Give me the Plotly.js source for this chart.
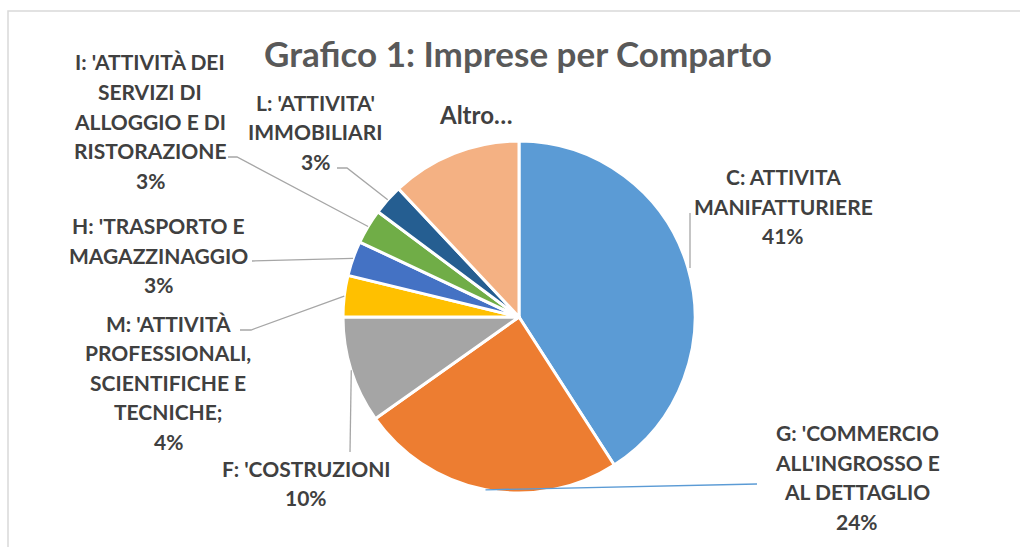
<!DOCTYPE html>
<html>
<head>
<meta charset="utf-8">
<script src="https://cdn.plot.ly/plotly-3.0.1.min.js"></script>
<style>
  html, body { margin: 0; padding: 0; background: #fff; }
  #plot-area { width: 1020px; height: 547px; }
</style>
</head>
<body>
<div id="plot-area"></div>
<script>
// data (share of firms, %)
const sectors = [
  "C: ATTIVITA MANIFATTURIERE",
  "G: 'COMMERCIO ALL'INGROSSO E AL DETTAGLIO",
  "F: 'COSTRUZIONI",
  "M: 'ATTIVITÀ PROFESSIONALI, SCIENTIFICHE E TECNICHE;",
  "H: 'TRASPORTO E MAGAZZINAGGIO",
  "I: 'ATTIVITÀ DEI SERVIZI DI ALLOGGIO E DI RISTORAZIONE",
  "L: 'ATTIVITA' IMMOBILIARI",
  "Altro..."
];
const shares = [40.9, 24.3, 9.8, 3.8, 3.2, 3.2, 2.8, 12.0];
const labelLines = [
  ["C: ATTIVITA", "MANIFATTURIERE"],
  ["G: 'COMMERCIO", "ALL'INGROSSO E", "AL DETTAGLIO"],
  ["F: 'COSTRUZIONI"],
  ["M: 'ATTIVITÀ", "PROFESSIONALI,", "SCIENTIFICHE E", "TECNICHE;"],
  ["H: 'TRASPORTO E", "MAGAZZINAGGIO"],
  ["I: 'ATTIVITÀ DEI", "SERVIZI DI", "ALLOGGIO E DI", "RISTORAZIONE"],
  ["L: 'ATTIVITA'", "IMMOBILIARI"],
  ["Altro…"]
];
const showPercent = [true, true, true, true, true, true, true, false];
const colors = ["#5B9BD5", "#ED7D31", "#A5A5A5", "#FFC000", "#4472C4", "#70AD47", "#255E91", "#F4B183"];

// layout (pixels)
const W = 1020, H = 547;
const cx = 519, cy = 317, r = 176;
const labelAt = [[783, 206], [857, 477], [306, 483], [168, 382], [158, 255], [150, 121], [315, 132], [475, 115]];
const leaderPts = [[[690, 213], [690, 268]], [[757, 484]], [[350, 452]], [[240, 330], [251, 330]],
                   [[252, 261]], [[228, 157], [237, 157]], [[337, 168], [347, 168]], null];
const leaderColor = ["#A6A6A6", "#5B9BD5", "#A6A6A6", "#A6A6A6", "#A6A6A6", "#A6A6A6", "#A6A6A6", null];
const lineGap = 29.5;

const px = x => x / W;
const py = y => 1 - y / H;

let total = shares.reduce((a, b) => a + b, 0);

let pie = {
  type: "pie",
  values: shares,
  labels: sectors,
  sort: false,
  direction: "clockwise",
  rotation: 0,
  textinfo: "none",
  hoverinfo: "label+percent",
  marker: { colors: colors, line: { color: "#ffffff", width: 3 } },
  domain: { x: [px(cx - r), px(cx + r)], y: [py(cy + r), py(cy - r)] },
  showlegend: false
};

let annotations = [];
let shapes = [];
let cum = 0;
for (let i = 0; i < shares.length; i++) {
  let mid = (cum + shares[i] / 2) / total * 2 * Math.PI;
  cum += shares[i];
  let lines = labelLines[i].slice();
  if (showPercent[i]) lines.push(Math.round(shares[i] / total * 100) + "%");
  let big = !showPercent[i];
  let y0 = labelAt[i][1] - (lines.length - 1) * lineGap / 2;
  for (let k = 0; k < lines.length; k++) {
    annotations.push({
      x: px(labelAt[i][0]), y: py(y0 + k * lineGap),
      xref: "paper", yref: "paper", xanchor: "center", yanchor: "middle",
      showarrow: false, text: lines[k],
      font: { family: "Lato, Open Sans, sans-serif", size: big ? 24 : 21, color: "#404040", weight: "bold" }
    });
  }
  if (leaderPts[i]) {
    let pts = leaderPts[i].slice();
    if (i !== 0) pts.push([cx + r * Math.sin(mid), cy - r * Math.cos(mid)]);
    let path = pts.map((p, j) => (j ? "L" : "M") + px(p[0]) + "," + py(p[1])).join(" ");
    shapes.push({ type: "path", xref: "paper", yref: "paper", path: path,
                  line: { color: leaderColor[i], width: 1.3 } });
  }
}

// chart frame
shapes.push({ type: "rect", xref: "paper", yref: "paper", x0: px(8), x1: px(1030), y0: py(560), y1: py(11),
              line: { color: "#D9D9D9", width: 1.5 } });

let layout = {
  width: W, height: H,
  margin: { l: 0, r: 0, t: 0, b: 0 },
  paper_bgcolor: "#ffffff",
  title: {
    text: "Grafico 1: Imprese per Comparto",
    x: px(518), y: py(55), xanchor: "center", yanchor: "middle",
    font: { family: "Lato, Open Sans, sans-serif", size: 35, color: "#595959", weight: "bold" }
  },
  annotations: annotations,
  shapes: shapes
};

Plotly.newPlot("plot-area", [pie], layout, { displayModeBar: false, staticPlot: true });
</script>
</body>
</html>
